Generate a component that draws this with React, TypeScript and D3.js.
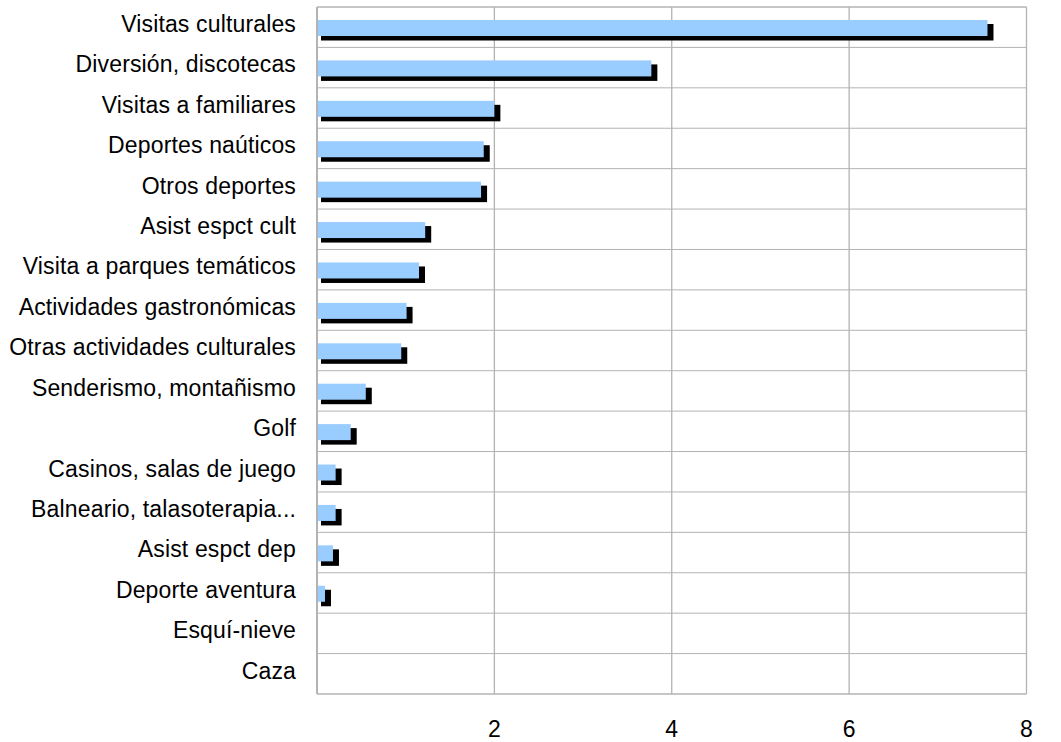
import React from "react";
import * as d3 from "d3";

const categories = [
  "Visitas culturales",
  "Diversión, discotecas",
  "Visitas a familiares",
  "Deportes naúticos",
  "Otros deportes",
  "Asist espct cult",
  "Visita a parques temáticos",
  "Actividades gastronómicas",
  "Otras actividades culturales",
  "Senderismo, montañismo",
  "Golf",
  "Casinos, salas de juego",
  "Balneario, talasoterapia...",
  "Asist espct dep",
  "Deporte aventura",
  "Esquí-nieve",
  "Caza",
];

const values = [7.56, 3.77, 2.0, 1.88, 1.85, 1.22, 1.15, 1.01, 0.95, 0.55, 0.38, 0.21, 0.21, 0.18, 0.09, 0, 0];

const ticks = [2, 4, 6, 8];

const W = 1061;
const H = 742;
const left = 317;
const right = 1026.5;
const top = 7;
const bottom = 694;

export default function App() {
  const x = d3.scaleLinear().domain([0, 8]).range([left, right]);
  const y = d3.scaleBand<string>().domain(categories).range([top, bottom]).padding(0);
  const font = "'Liberation Sans', Arial, sans-serif";
  const grid = "#b3b3b3";

  return (
    <svg
      width={W}
      height={H}
      style={{ position: "absolute", left: 0, top: 0, background: "#fff" }}
      fontFamily={font}
    >
      <rect x={0} y={0} width={W} height={H} fill="#fff" />
      {categories.map((c) => (
        <line key={"h" + c} x1={left} x2={right} y1={y(c)!} y2={y(c)!} stroke={grid} strokeWidth={1} />
      ))}
      {ticks.map((t) => (
        <line key={"v" + t} x1={x(t)} x2={x(t)} y1={top} y2={bottom} stroke={grid} strokeWidth={1.3} />
      ))}
      {categories.map((c, i) =>
        values[i] > 0 ? (
          <rect
            key={"s" + c}
            x={x(0) + 4}
            y={y(c)! + 17}
            width={x(values[i]) - x(0) + 2}
            height={16.5}
            fill="#000"
          />
        ) : null
      )}
      {categories.map((c, i) =>
        values[i] > 0 ? (
          <rect
            key={"b" + c}
            x={x(0)}
            y={y(c)! + 13}
            width={x(values[i]) - x(0)}
            height={16}
            fill="#99ccff"
          />
        ) : null
      )}
      <line x1={left} x2={left} y1={top} y2={bottom} stroke={grid} strokeWidth={2} />
      <line x1={left} x2={right} y1={bottom} y2={bottom} stroke={grid} strokeWidth={1.3} />
      <line x1={left} x2={right} y1={top} y2={top} stroke={grid} strokeWidth={1} />
      {categories.map((c) => (
        <text key={"l" + c} x={296} y={y(c)! + 25} textAnchor="end" fontSize={23} letterSpacing={0.15} fill="#000">
          {c}
        </text>
      ))}
      {ticks.map((t) => (
        <text key={"t" + t} x={x(t)} y={736.5} textAnchor="middle" fontSize={23} fill="#000">
          {t}
        </text>
      ))}
    </svg>
  );
}
